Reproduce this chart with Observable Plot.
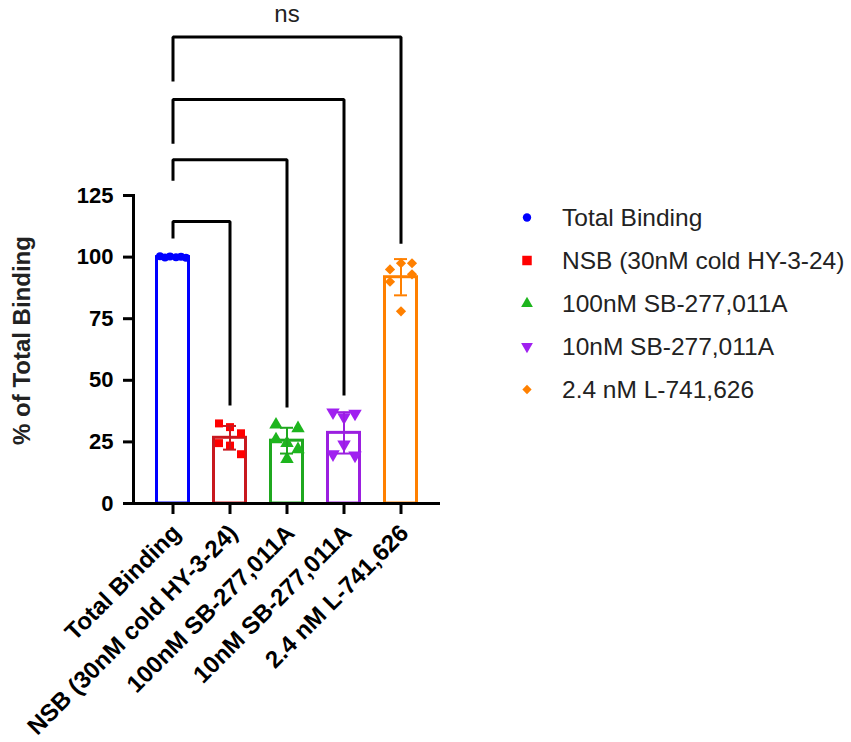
<!DOCTYPE html>
<html><head><meta charset="utf-8">
<script src="https://cdn.jsdelivr.net/npm/d3@7"></script>
<script src="https://cdn.jsdelivr.net/npm/@observablehq/plot@0.6"></script>
<style>
body{margin:0;background:#fff;}
#chart{position:relative;width:851px;height:742px;font-family:"Liberation Sans",Arial,sans-serif;}
#legend{position:absolute;left:512px;top:196px;}
.row{display:flex;align-items:center;height:43px;}
.row span{margin-left:20px;font-size:24.5px;color:#222;white-space:nowrap;}
</style></head><body><div id="chart"><div id="legend"></div></div>
<script>
// ---- data ----
const groups = ["Total Binding", "NSB (30nM cold HY-3-24)", "100nM SB-277,011A", "10nM SB-277,011A", "2.4 nM L-741,626"];
const totalBinding = [100.3, 99.8, 100.2, 99.9, 100.1, 99.7];
const nsb = [32.5, 31, 28.5, 24.5, 23.5, 20];
const sb100 = [32, 24.5, 30.5, 26, 18, 22];
const sb10 = [37, 35, 36.5, 20, 24, 19.5];
const l741 = [95, 97.5, 97.5, 90, 78, 93];
const series = [totalBinding, nsb, sb100, sb10, l741];
const yTicks = [0, 25, 50, 75, 100, 125];
const yLabel = "% of Total Binding";
// comparisons: from/to group index, bracket level, left and right leg ends (data units)
const brackets = [
  {from: 0, to: 1, h: 114.4, l: 107.5, r: 39.8, label: ""},
  {from: 0, to: 2, h: 139.5, l: 131, r: 39, label: ""},
  {from: 0, to: 3, h: 164, l: 146, r: 43.8, label: ""},
  {from: 0, to: 4, h: 189.3, l: 171.3, r: 105.4, label: "ns"}
];

// ---- styles ----
const pointColors = ["#0000ff", "#ff0000", "#1db51d", "#a020f0", "#ff8000"];
const barColors = ["#0000ff", "#c8181f", "#1fa81f", "#9b1fe0", "#ff8000"];
const triangleDown = {
  draw(context, size) {
    const s3 = Math.sqrt(3);
    const y = -Math.sqrt(size / (s3 * 3));
    context.moveTo(0, -y * 2);
    context.lineTo(-s3 * y, y);
    context.lineTo(s3 * y, y);
    context.closePath();
  }
};
const symbols = ["circle", "square", "triangle", triangleDown, "diamond2"];
const d3Symbols = [d3.symbolCircle, d3.symbolSquare, d3.symbolTriangle, triangleDown, d3.symbolDiamond2];
const legendSizes = [55, 90, 60, 60, 55];
const radii = [4, 4.5, 5, 5, 4.6];
const slotDxDefault = [-11, 0, 11, -11, 0, 11];
const slotDxByGroup = [[-13, -8, -3, 3, 8, 13], slotDxDefault, slotDxDefault, slotDxDefault, slotDxDefault];
const font = "Liberation Sans, Arial, sans-serif";

const rows = groups.flatMap((g, gi) => series[gi].map((v, i) => ({group: g, gi, value: v, slot: i})));
const stats = groups.map((g, gi) => ({group: g, gi, mean: d3.mean(series[gi]), sd: d3.deviation(series[gi])}));
const bracketPts = brackets.flatMap((b, bi) => [
  {b: bi, x: groups[b.from], y: b.l},
  {b: bi, x: groups[b.from], y: b.h},
  {b: bi, x: groups[b.to], y: b.h},
  {b: bi, x: groups[b.to], y: b.r}
]);

const dotMarks = [];
groups.forEach((g, gi) => {
  slotDxByGroup[gi].forEach((dx, s) => {
    dotMarks.push(Plot.dot(rows.filter(r => r.gi === gi && r.slot === s), {
      x: "group", y: "value", dx, fill: pointColors[gi], stroke: "none",
      symbol: symbols[gi], r: radii[gi]
    }));
  });
});

const plot = Plot.plot({
  width: 851, height: 742,
  marginLeft: 133, marginRight: 411, marginTop: 195, marginBottom: 239,
  style: {fontFamily: font, background: "white", color: "black", overflow: "visible"},
  x: {type: "band", domain: groups, paddingInner: 0.38, paddingOuter: 0.35, axis: null},
  y: {domain: [0, 125], axis: null},
  marks: [
    Plot.barY(stats, {x: "group", y: "mean", fill: "white", stroke: d => barColors[d.gi], strokeWidth: 3, insetLeft: 1.5, insetRight: 1.5}),
    ...dotMarks,
    Plot.ruleX(stats, {x: "group", y1: d => d.mean - d.sd, y2: d => d.mean + d.sd, stroke: d => barColors[d.gi], strokeWidth: 2}),
    Plot.tickY(stats, {x: "group", y: d => d.mean + d.sd, stroke: d => barColors[d.gi], strokeWidth: 2, insetLeft: 11, insetRight: 11}),
    Plot.tickY(stats, {x: "group", y: d => d.mean - d.sd, stroke: d => barColors[d.gi], strokeWidth: 2, insetLeft: 11, insetRight: 11}),
    Plot.line(bracketPts, {x: "x", y: "y", z: "b", stroke: "black", strokeWidth: 3, strokeLinejoin: "miter", strokeLinecap: "butt"}),
    Plot.text(brackets.filter(b => b.label), {x: b => groups[Math.round((b.from + b.to) / 2)], y: "h", text: "label", dy: -23, fontSize: 24, fill: "#222"}),
    Plot.axisY({ticks: yTicks, tickSize: 10, tickPadding: 10, fontSize: 22, fontWeight: "bold", strokeWidth: 3, label: null, tickFormat: d => d}),
    Plot.axisX({tickSize: 11, strokeWidth: 3, tickFormat: () => "", label: null}),
    Plot.frame({anchor: "left", strokeWidth: 3, stroke: "black"}),
    Plot.ruleY([0], {strokeWidth: 3, stroke: "black"}),
    Plot.text(groups, {x: d => d, text: d => d, frameAnchor: "bottom", rotate: -45, textAnchor: "end", dx: 9, dy: 31, fontSize: 24, fontWeight: "bold", fill: "black"}),
    Plot.text([yLabel], {text: d => d, frameAnchor: "left", textAnchor: "middle", rotate: -90, dx: -111, dy: -9, fontSize: 24, fontWeight: "bold", fill: "#222"})
  ]
});
document.getElementById("chart").prepend(plot);

// ---- legend ----
const legend = d3.select("#legend");
groups.forEach((g, gi) => {
  const row = legend.append("div").attr("class", "row");
  const svg = row.append("svg").attr("width", 30).attr("height", 43);
  svg.append("path")
    .attr("transform", "translate(15,21.5)")
    .attr("d", d3.symbol(d3Symbols[gi], legendSizes[gi])())
    .attr("fill", pointColors[gi]);
  row.append("span").text(g);
});
</script>
</body></html>
